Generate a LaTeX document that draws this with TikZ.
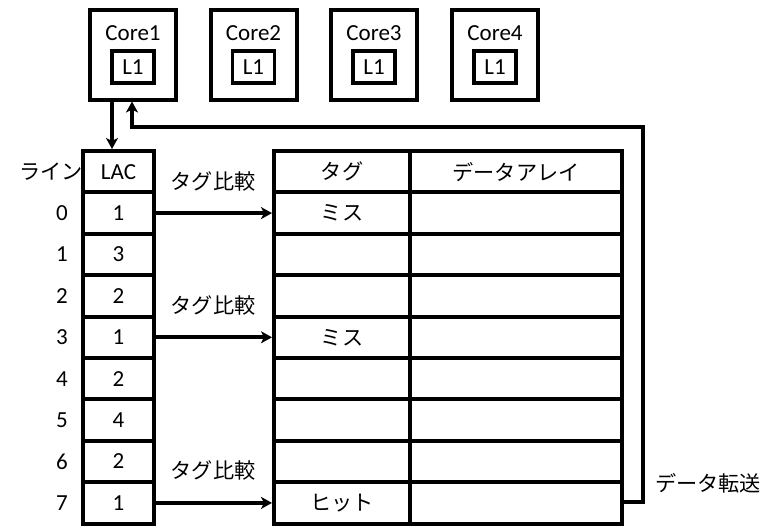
\documentclass[tikz,border=0pt]{standalone}
\usepackage{fontspec}
\setmainfont{Carlito}
\newfontfamily\jp[Scale=0.92]{Noto Sans CJK JP}
\usetikzlibrary{arrows.meta}
\begin{document}
\begin{tikzpicture}[x=1pt,y=-1pt,
  font=\fontsize{23}{27}\selectfont,
  corebox/.style={draw,line width=4pt,minimum width=86pt,minimum height=89pt,inner sep=0pt},
  l1box/.style={draw,line width=3.5pt,minimum width=42pt,minimum height=32pt,inner sep=0pt},
  cell/.style={draw,line width=4pt,minimum height=41.4pt,inner sep=0pt,anchor=center},
  lac/.style={cell,minimum width=71pt},
  tagc/.style={cell,minimum width=136pt},
  datac/.style={cell,minimum width=212pt},
  lbl/.style={inner sep=0pt},
  arr/.style={line width=3.8pt,-{Stealth[length=11pt,width=12pt,inset=3pt]}}
]
\useasboundingbox (0,0) rectangle (774,527);

% cores
\foreach \i/\x in {1/133,2/253.5,3/374,4/495}{
  \node[corebox] (core\i) at (\x,55) {};
  \node[lbl] (coret\i) at (\x,33) {Core\i};
  \node[l1box] (l1\i) at (\x,67) {L1};
}

% LAC column and table
\def\rh{41.4}
\node[lac] (lac0) at (118.5,{151+\rh*0.5}) {LAC};
\node[tagc] (tag0) at (342,{151+\rh*0.5}) {\jp タグ};
\node[datac] (dat0) at (516,{151+\rh*0.5}) {\jp データアレイ};
\node[lbl] (linelbl) at (51,{151+\rh*0.5}) {\jp ライン};

\foreach \r/\v/\t in {1/1/{\jp ミス},2/3/{},3/2/{},4/1/{\jp ミス},5/2/{},6/4/{},7/2/{},8/1/{\jp ヒット}}{
  \pgfmathsetmacro{\yy}{151+\rh*(\r+0.5)}
  \pgfmathtruncatemacro{\n}{\r-1}
  \node[lac] (lac\r) at (118.5,\yy) {\v};
  \node[tagc] (tag\r) at (342,\yy) {\t};
  \node[datac] (dat\r) at (516,\yy) {};
  \node[lbl] (num\r) at (62,\yy) {\n};
}

% tag compare arrows
\foreach \r in {1,4,8}{
  \draw[arr] (lac\r.east) -- (tag\r.west)
    node[midway,lbl,yshift=32pt,xshift=-1pt] (cmp\r) {\jp タグ比較};
}

% request arrow
\draw[arr] ([xshift=-21pt]core1.south) -- ([xshift=-21pt]core1.south |- lac0.north);

% data transfer return
\coordinate (r1) at (643,0);
\draw[arr,line join=miter] (dat8.east |- 0,502) -- (r1 |- 0,502) -- (r1 |- 0,127)
  -- ([xshift=-1pt]core1.south |- 0,127) -- ([xshift=-1pt]core1.south);
\node[lbl,anchor=west] (xfer) at (655,483) {\jp データ転送};
\end{tikzpicture}
\end{document}
